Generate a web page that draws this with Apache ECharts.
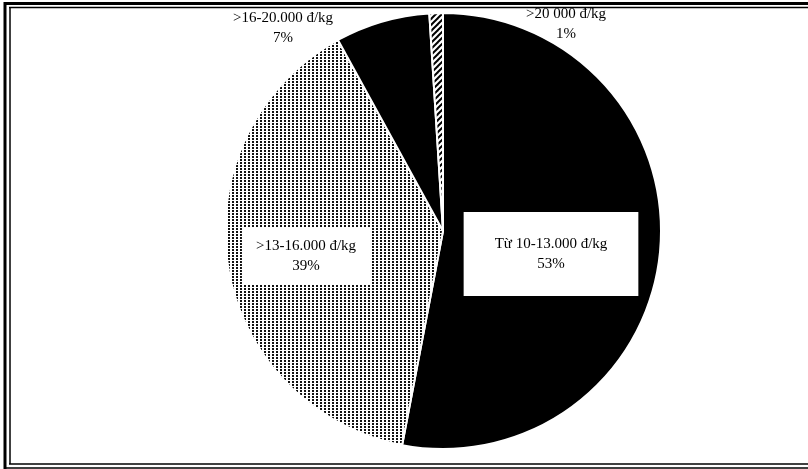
<!DOCTYPE html>
<html>
<head>
<meta charset="utf-8">
<script src="https://cdn.jsdelivr.net/npm/echarts@6/dist/echarts.min.js"></script>
<style>html,body{margin:0;padding:0;background:#fff}#c{width:808px;height:469px}</style>
</head>
<body>
<div id="c"></div>
<script>
var categories = ['Từ 10-13.000 đ/kg', '>13-16.000 đ/kg', '>16-20.000 đ/kg', '>20 000 đ/kg'];
var values = [53, 39, 7, 1];
var percentLabels = ['53%', '39%', '7%', '1%'];

function dotPattern() {
  var c = document.createElement('canvas');
  c.width = 4; c.height = 3;
  var g = c.getContext('2d');
  g.fillStyle = '#fff'; g.fillRect(0, 0, 4, 3);
  g.fillStyle = '#111'; g.fillRect(0, 0, 2, 2);
  return c;
}
function hatchPattern() {
  var c = document.createElement('canvas');
  c.width = 6; c.height = 6;
  var g = c.getContext('2d');
  g.fillStyle = '#fff'; g.fillRect(0, 0, 6, 6);
  g.strokeStyle = '#000'; g.lineWidth = 2;
  g.beginPath(); g.moveTo(-1, 7); g.lineTo(7, -1); g.stroke();
  g.beginPath(); g.moveTo(-4, 4); g.lineTo(4, -4); g.stroke();
  g.beginPath(); g.moveTo(2, 10); g.lineTo(10, 2); g.stroke();
  return c;
}

var fills = ['#000', {image: dotPattern(), repeat: 'repeat'}, '#000', {image: hatchPattern(), repeat: 'repeat'}];
var labelPos = [[551, 254], [306, 256], [283, 28], [566, 24]];
var labelStyles = [
  {backgroundColor: '#fff', padding: [22, 31]},
  {backgroundColor: '#fff', padding: [9, 14]},
  {},
  {}
];

var chart = echarts.init(document.getElementById('c'));
var data = categories.map(function (n, i) {
  return {
    name: n, value: values[i],
    itemStyle: {color: fills[i]},
    label: Object.assign({
      formatter: n + '\n' + percentLabels[i]
    }, labelStyles[i])
  };
});
chart.setOption({
  animation: false,
  backgroundColor: '#fff',
  series: [{
    type: 'pie',
    center: [443, 231],
    radius: ['0', 218],
    startAngle: 90,
    clockwise: true,
    data: data,
    itemStyle: {borderColor: '#fff', borderWidth: 2},
    label: {
      show: true,
      position: 'inside',
      fontFamily: 'Liberation Serif',
      fontSize: 15,
      lineHeight: 20,
      color: '#000',
      align: 'center'
    },
    labelLine: {show: false},
    labelLayout: function (p) {
      return {x: labelPos[p.dataIndex][0], y: labelPos[p.dataIndex][1], align: 'center', verticalAlign: 'middle'};
    }
  }],
  graphic: [
    {type: 'line', shape: {x1: 4, y1: 3.5, x2: 808, y2: 3.5}, style: {stroke: '#000', lineWidth: 3}},
    {type: 'line', shape: {x1: 9, y1: 7.5, x2: 808, y2: 7.5}, style: {stroke: '#000', lineWidth: 1.5}},
    {type: 'line', shape: {x1: 5, y1: 2, x2: 5, y2: 469}, style: {stroke: '#000', lineWidth: 3}},
    {type: 'line', shape: {x1: 10, y1: 7, x2: 10, y2: 464}, style: {stroke: '#000', lineWidth: 1.5}},
    {type: 'line', shape: {x1: 9, y1: 464, x2: 808, y2: 464}, style: {stroke: '#000', lineWidth: 1.5}},
    {type: 'line', shape: {x1: 4, y1: 468, x2: 808, y2: 468}, style: {stroke: '#000', lineWidth: 1.5}}
  ]
});
</script>
</body>
</html>
